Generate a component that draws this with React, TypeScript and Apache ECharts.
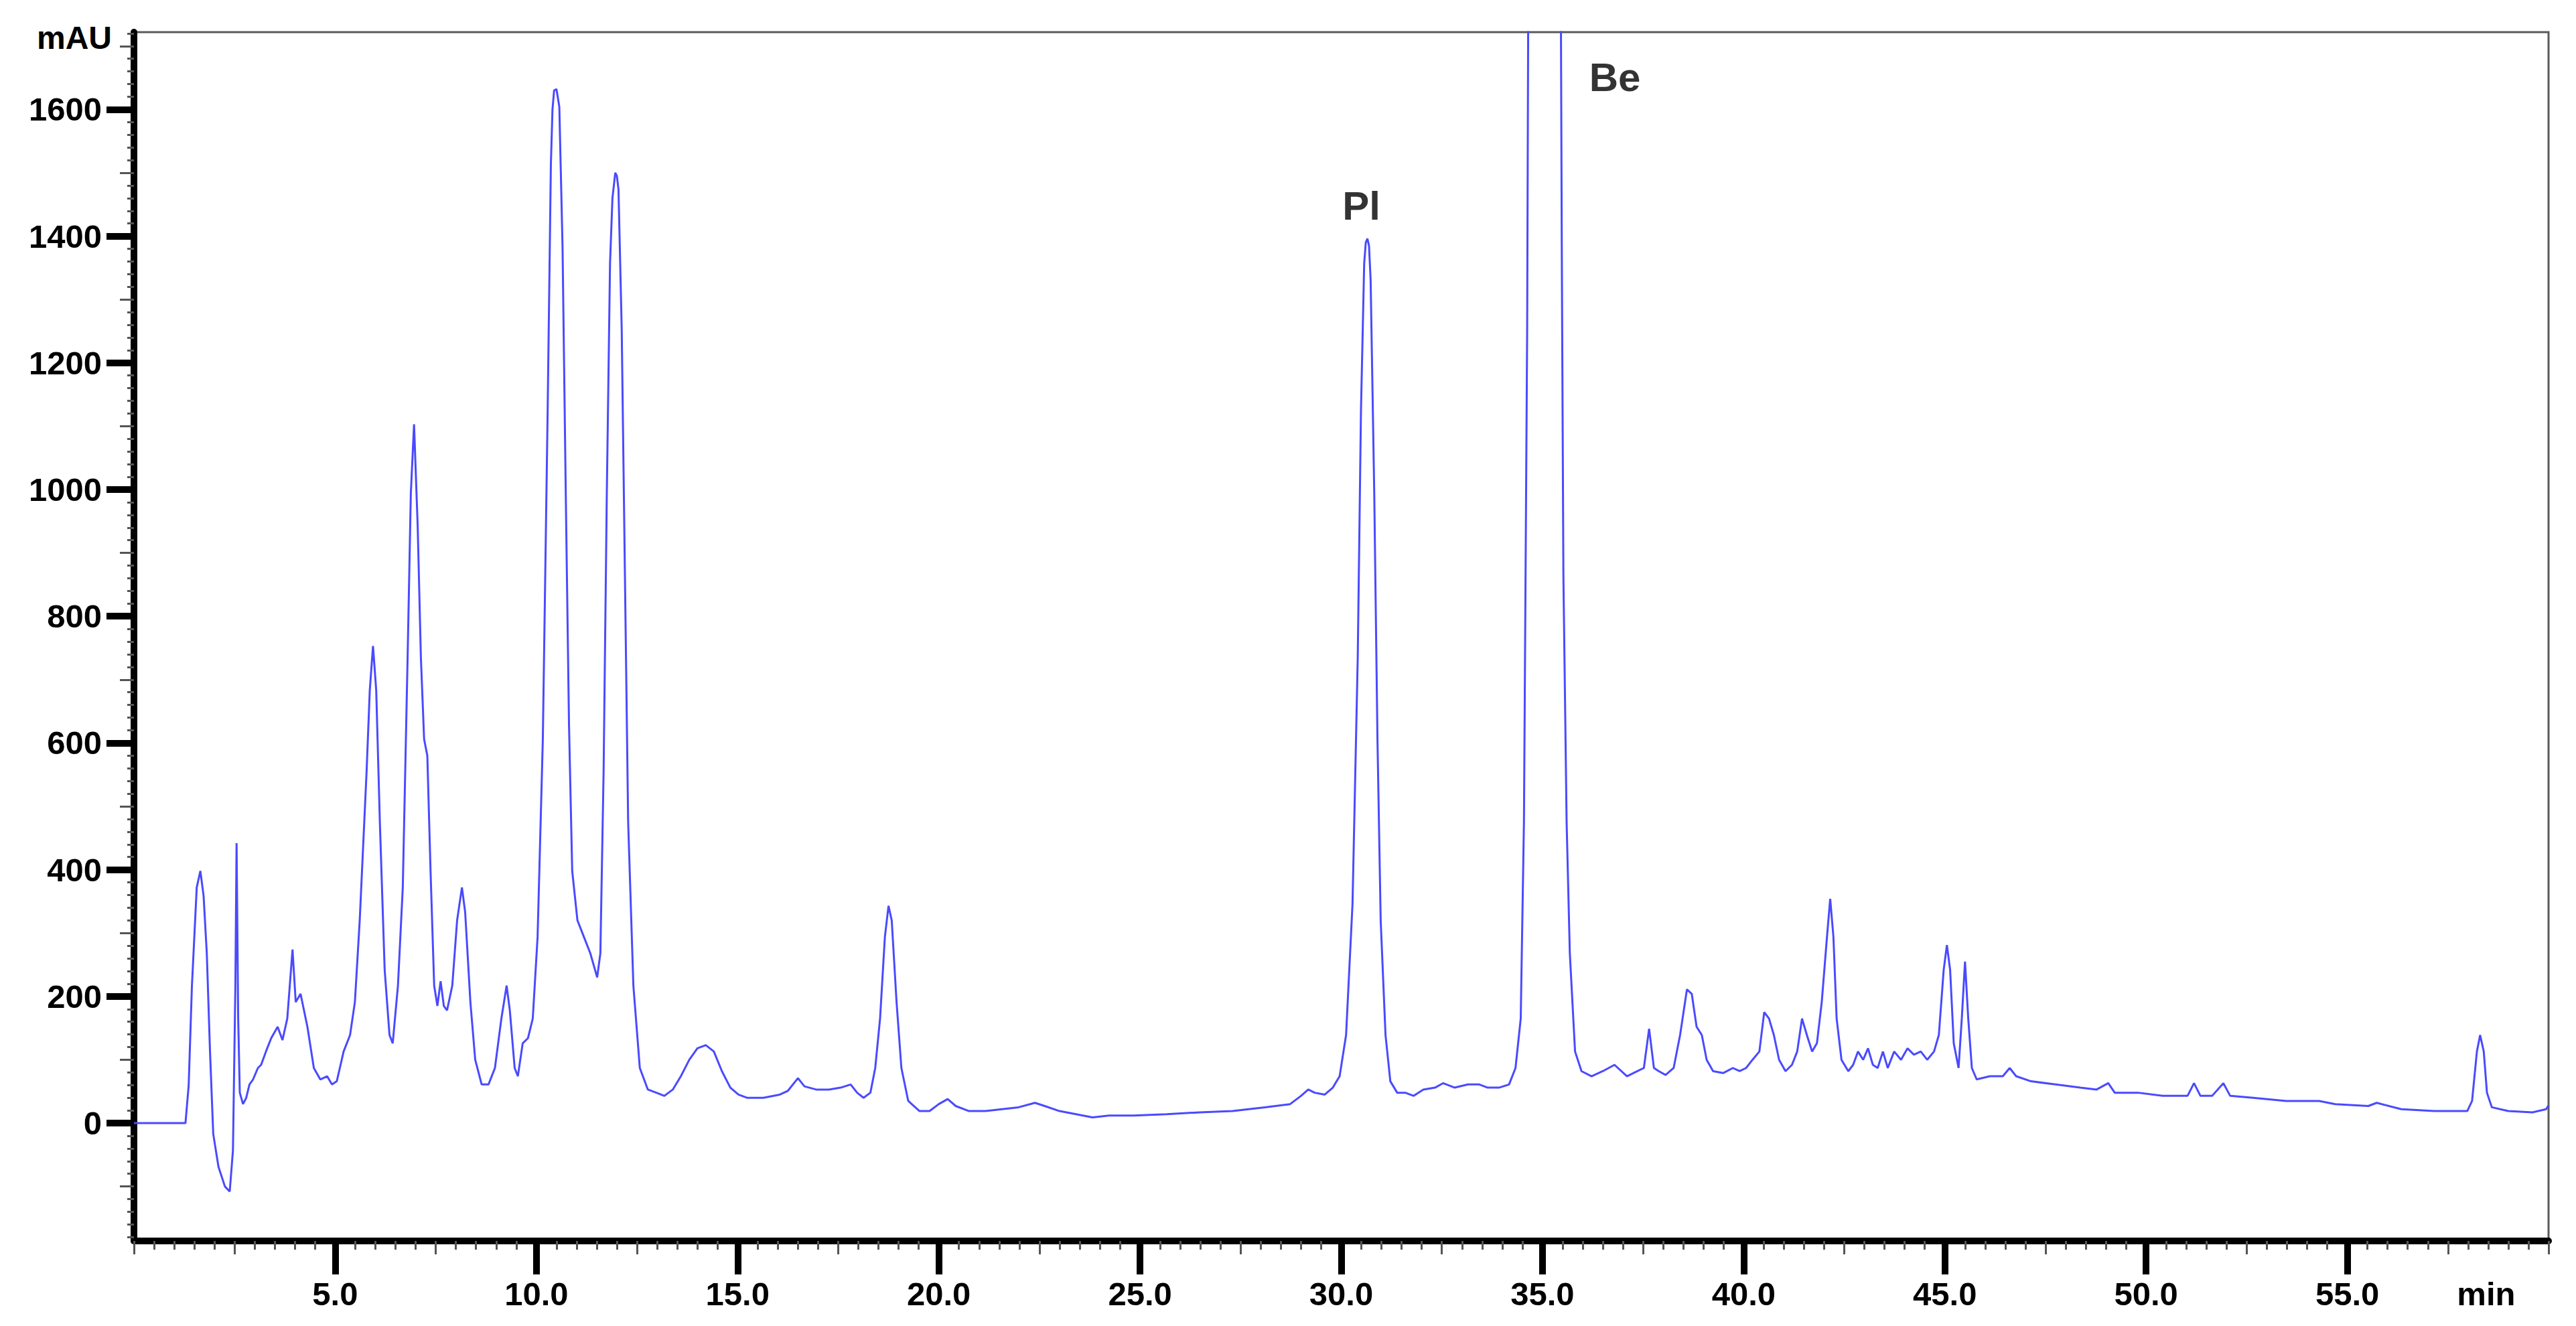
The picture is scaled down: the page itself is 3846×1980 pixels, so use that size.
import React, { useEffect, useRef } from 'react';
import * as echarts from 'echarts';

// Retention time (min) and absorbance (mAU)
const retentionTime = [
  0, 1.28, 1.36, 1.44, 1.56, 1.65, 1.73, 1.81, 1.89, 1.97, 2.1, 2.26, 2.38, 2.46, 2.52, 2.55, 2.59, 2.63, 2.71, 2.79,
  2.87, 2.96, 3.08, 3.16, 3.28, 3.41, 3.57, 3.69, 3.81, 3.94, 4.02, 4.14, 4.31, 4.47, 4.63, 4.8, 4.92, 5.04, 5.21, 5.37,
  5.49, 5.61, 5.78, 5.86, 5.94, 6.02, 6.11, 6.23, 6.35, 6.43, 6.56, 6.68, 6.8, 6.88, 6.96, 7.05, 7.13, 7.21, 7.29, 7.37,
  7.46, 7.54, 7.62, 7.7, 7.78, 7.91, 8.03, 8.15, 8.23, 8.36, 8.48, 8.64, 8.81, 8.97, 9.13, 9.26, 9.34, 9.46, 9.54, 9.66,
  9.79, 9.91, 10.03, 10.16, 10.28, 10.36, 10.4, 10.44, 10.5, 10.57, 10.65, 10.73, 10.81, 10.89, 11.02, 11.18, 11.34, 11.51, 11.59, 11.67,
  11.75, 11.83, 11.89, 11.96, 12.0, 12.04, 12.12, 12.2, 12.28, 12.41, 12.57, 12.77, 12.98, 13.18, 13.39, 13.59, 13.8, 14.0, 14.21, 14.41,
  14.61, 14.82, 15.02, 15.23, 15.64, 16.05, 16.25, 16.5, 16.66, 16.95, 17.27, 17.56, 17.81, 17.97, 18.13, 18.3, 18.42, 18.54, 18.66, 18.75,
  18.83, 18.95, 19.07, 19.24, 19.52, 19.77, 20.0, 20.22, 20.42, 20.75, 21.16, 21.57, 21.98, 22.39, 22.63, 23.0, 23.41, 23.82, 24.23, 24.84,
  25.66, 26.48, 27.3, 28.1, 28.73, 29.0, 29.18, 29.34, 29.59, 29.79, 29.96, 30.12, 30.28, 30.41, 30.49, 30.57, 30.61, 30.65, 30.69, 30.73,
  30.82, 30.9, 30.98, 31.1, 31.22, 31.39, 31.59, 31.8, 32.04, 32.33, 32.53, 32.82, 33.15, 33.43, 33.64, 33.92, 34.17, 34.33, 34.46, 34.54,
  34.62, 34.68, 34.8, 35.05, 35.3, 35.42, 35.46, 35.48, 35.52, 35.6, 35.68, 35.81, 35.97, 36.22, 36.5, 36.79, 37.1, 37.36, 37.52, 37.65,
  37.77, 37.89, 38.06, 38.26, 38.42, 38.59, 38.71, 38.83, 38.96, 39.08, 39.24, 39.49, 39.73, 39.9, 40.06, 40.22, 40.39, 40.51, 40.63, 40.75,
  40.88, 41.04, 41.2, 41.33, 41.45, 41.57, 41.7, 41.82, 41.94, 42.07, 42.15, 42.23, 42.31, 42.43, 42.6, 42.72, 42.84, 42.97, 43.09, 43.21,
  43.33, 43.46, 43.58, 43.74, 43.91, 44.07, 44.23, 44.4, 44.56, 44.73, 44.85, 44.97, 45.05, 45.13, 45.22, 45.34, 45.42, 45.5, 45.58, 45.67,
  45.79, 46.12, 46.44, 46.61, 46.77, 47.14, 47.75, 48.36, 48.77, 49.06, 49.22, 49.8, 50.41, 51.03, 51.19, 51.35, 51.64, 51.92, 52.09, 52.66,
  53.48, 54.3, 54.7, 55.52, 55.73, 56.34, 57.16, 57.98, 58.1, 58.22, 58.3, 58.39, 58.47, 58.59, 59.0, 59.6, 59.94, 60.0,
];

const absorbance = [
  0, 0, 60, 216, 372, 398, 359, 268, 113, -17, -69, -100, -108, -43, 216, 442, 165, 48, 30, 40,
  61, 69, 87, 92, 113, 134, 152, 131, 165, 274, 191, 204, 152, 87, 69, 74, 61, 66, 113, 139,
  191, 320, 554, 683, 753, 683, 476, 242, 139, 126, 217, 372, 735, 994, 1103, 943, 735, 606, 580, 398,
  217, 185, 224, 185, 178, 217, 320, 372, 333, 191, 100, 61, 61, 87, 165, 217, 178, 87, 74, 126,
  134, 165, 294, 606, 1124, 1513, 1600, 1630, 1632, 1604, 1383, 994, 631, 398, 320, 294, 268, 230, 268, 554,
  994, 1357, 1460, 1500, 1495, 1474, 1254, 865, 476, 217, 87, 53, 48, 43, 53, 74, 100, 118, 123, 113,
  82, 56, 45, 40, 40, 45, 51, 71, 58, 53, 53, 56, 61, 48, 40, 48, 87, 165, 294, 343,
  320, 191, 87, 35, 19, 19, 30, 38, 27, 19, 19, 22, 25, 32, 27, 19, 14, 9, 12, 12,
  14, 17, 19, 25, 30, 43, 53, 48, 45, 56, 74, 139, 346, 735, 1124, 1357, 1390, 1396, 1385, 1331,
  994, 606, 320, 139, 66, 48, 48, 43, 53, 56, 63, 56, 61, 61, 56, 56, 61, 87, 165, 476,
  1254, 2400, 3300, 3600, 3300, 2400, 1720, 1383, 865, 476, 268, 113, 82, 74, 82, 92, 74, 82, 87, 149,
  87, 82, 76, 87, 139, 211, 204, 152, 139, 100, 82, 79, 87, 82, 87, 100, 113, 175, 165, 139,
  100, 82, 92, 113, 165, 139, 113, 126, 191, 294, 354, 294, 165, 100, 82, 92, 113, 100, 118, 92,
  87, 113, 87, 113, 100, 118, 108, 113, 100, 113, 139, 242, 281, 242, 126, 87, 165, 255, 165, 87,
  69, 74, 74, 87, 74, 66, 61, 56, 53, 63, 48, 48, 43, 43, 63, 43, 43, 63, 43, 40,
  35, 35, 30, 27, 32, 22, 19, 19, 35, 113, 139, 113, 48, 25, 19, 17, 22, 28,
];

// Axis tick / label values
const xLabelValues = [5, 10, 15, 20, 25, 30, 35, 40, 45, 50, 55];
const xUnitLabelAt = 58.45;
const yLabelValues = [0, 200, 400, 600, 800, 1000, 1200, 1400, 1600];
const xRange = [0, 60];
const yRange = [-186, 1722];

// Peak annotations
const peakNames = ['Pl', 'Be'];
const peakLabelTime = [30.5, 36.8];
const peakLabelHeight = [1448, 1651];

const FONT = 'Liberation Sans';

function range(start: number, end: number, step: number): number[] {
  const out: number[] = [];
  for (let v = start; v <= end + 1e-9; v += step) out.push(Math.round(v * 100) / 100);
  return out;
}

export default function App() {
  const ref = useRef<HTMLDivElement>(null);

  useEffect(() => {
    if (!ref.current) return;
    const chart = echarts.init(ref.current, null, { renderer: 'svg' });

    const traceData = retentionTime.map((t, i) => [t, absorbance[i]]);
    const peakData = peakNames.map((n, i) => [peakLabelTime[i], peakLabelHeight[i], n]);

    const xMedium = range(2.5, 57.5, 5).concat([0, 60]);
    const xMinor = range(0, 60, 0.5).filter((v) => Math.abs(v / 2.5 - Math.round(v / 2.5)) > 1e-6);
    const yMedium = range(-100, 1700, 200);
    const yMinor = range(-180, 1720, 20).filter((v) => v % 100 !== 0);

    const labelStyle = {
      fontFamily: FONT,
      fontWeight: 'bold' as const,
      fontSize: 49,
      color: '#000',
    };

    const baseX = {
      type: 'value' as const,
      min: xRange[0],
      max: xRange[1],
      position: 'bottom' as const,
      splitLine: { show: false },
    };
    const baseY = {
      type: 'value' as const,
      min: yRange[0],
      max: yRange[1],
      position: 'left' as const,
      splitLine: { show: false },
    };

    const option: any = {
      animation: false,
      backgroundColor: '#ffffff',
      grid: {
        left: 200,
        right: 41,
        top: 48,
        bottom: 127,
        containLabel: false,
        outerBoundsMode: 'none',
        show: true,
        borderColor: '#5a5a5a',
        borderWidth: 3,
        backgroundColor: 'transparent',
      },
      xAxis: [
        {
          ...baseX,
          axisLine: { show: true, onZero: false, lineStyle: { color: '#000', width: 10 } },
          axisTick: {
            show: true,
            customValues: xLabelValues,
            length: 50,
            inside: false,
            lineStyle: { color: '#000', width: 10 },
          },
          axisLabel: {
            show: true,
            customValues: xLabelValues.concat([xUnitLabelAt]),
            margin: 54,
            formatter: (v: number) => (v > 57 ? 'min' : v.toFixed(1)),
            ...labelStyle,
          },
        },
        {
          ...baseX,
          axisLine: { show: false, onZero: false },
          axisTick: { show: true, customValues: xMedium, length: 20, lineStyle: { color: '#555', width: 3 } },
          axisLabel: { show: false },
        },
        {
          ...baseX,
          axisLine: { show: false, onZero: false },
          axisTick: { show: true, customValues: xMinor, length: 13, lineStyle: { color: '#555', width: 3 } },
          axisLabel: { show: false },
        },
      ],
      yAxis: [
        {
          ...baseY,
          axisLine: { show: true, onZero: false, lineStyle: { color: '#000', width: 10 } },
          axisTick: {
            show: true,
            customValues: yLabelValues,
            length: 41,
            lineStyle: { color: '#000', width: 10 },
          },
          axisLabel: {
            show: true,
            customValues: yLabelValues,
            margin: 48,
            formatter: (v: number) => String(v),
            ...labelStyle,
          },
        },
        {
          ...baseY,
          axisLine: { show: false, onZero: false },
          axisTick: { show: true, customValues: yMedium, length: 21, lineStyle: { color: '#555', width: 3 } },
          axisLabel: { show: false },
        },
        {
          ...baseY,
          axisLine: { show: false, onZero: false },
          axisTick: { show: true, customValues: yMinor, length: 10, lineStyle: { color: '#555', width: 3 } },
          axisLabel: { show: false },
        },
      ],
      series: [
        {
          type: 'line',
          name: 'chromatogram',
          xAxisIndex: 0,
          yAxisIndex: 0,
          data: traceData,
          showSymbol: false,
          symbol: 'none',
          clip: true,
          lineStyle: { color: '#4a4aff', width: 3 },
          z: 3,
        },
        {
          type: 'scatter',
          name: 'peaks',
          xAxisIndex: 0,
          yAxisIndex: 0,
          data: peakData,
          symbolSize: 1,
          itemStyle: { color: 'rgba(0,0,0,0)' },
          label: {
            show: true,
            position: 'inside',
            formatter: (p: any) => p.data[2],
            fontFamily: FONT,
            fontWeight: 'bold',
            fontSize: 60,
            color: '#000',
          },
          z: 4,
        },
      ],
      graphic: [
        {
          type: 'text',
          x: 167,
          y: 56,
          style: {
            text: 'mAU',
            textAlign: 'right',
            textVerticalAlign: 'middle',
            fontFamily: FONT,
            fontWeight: 'bold',
            fontSize: 48,
            fill: '#000',
          },
        },
      ],
    };

    chart.setOption(option);
    return () => chart.dispose();
  }, []);

  return (
    <div
      ref={ref}
      style={{ position: 'fixed', left: 0, top: 0, width: 3846, height: 1980, background: '#ffffff' }}
    />
  );
}
